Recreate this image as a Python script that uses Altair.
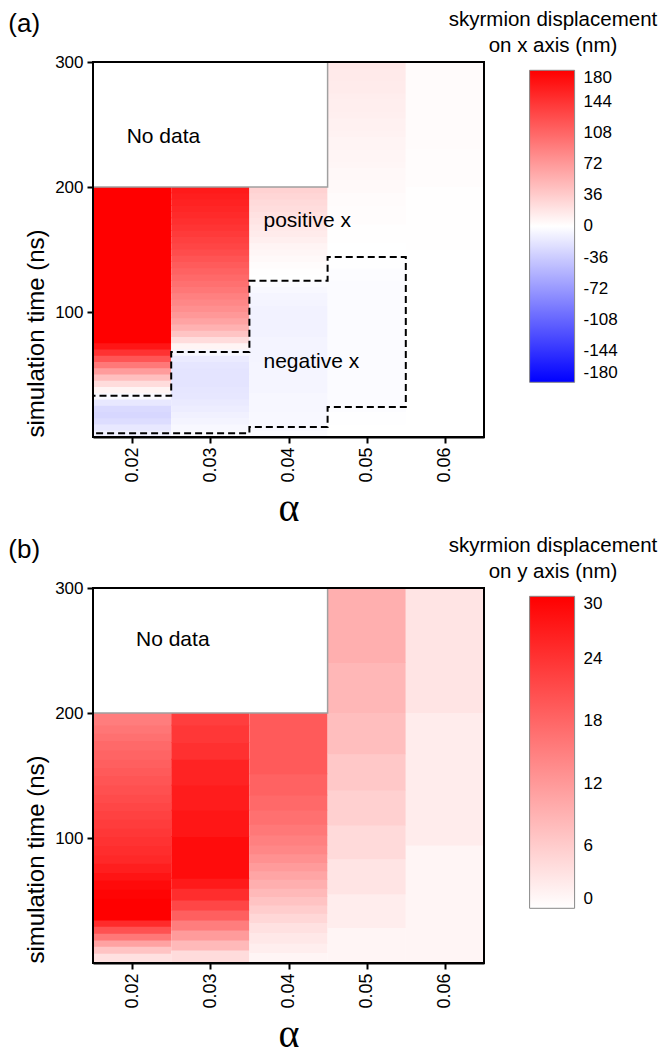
import altair as alt
import pandas as pd

FONT = "Liberation Sans"

# ---------------- axes / layout data ----------------
ALPHAS = [0.02, 0.03, 0.04, 0.05, 0.06]
HALF_WIDTH = 0.005
X_DOMAIN = [0.015, 0.065]
Y_DOMAIN = [0, 300]
Y_TICKS = [100, 200, 300]

# ---------------- panel (a): displacement on x (nm), 5 ns bins ----------------
A_EDGES_200 = list(range(0, 205, 5))
A_EDGES_300 = list(range(0, 305, 5))
A_002 = [-10, -16, -24, -28, -26, -16, -4, 8, 25, 45, 70, 95, 120, 145, 165, 180,
         190, 195, 200, 205, 210, 215, 220, 225, 230, 235, 240, 245, 250, 255,
         260, 265, 270, 275, 280, 285, 290, 295, 300, 305]
A_003 = [-3, -5, -8, -10, -13, -15, -17, -18, -19, -19, -19, -18, -14, -6, 8, 25,
         42, 55, 65, 73, 79, 85, 90, 96, 101, 106, 111, 116, 121, 126,
         131, 135, 139, 143, 147, 150, 153, 156, 159, 162]
A_004 = [-3, -4, -5, -5, -6, -6, -6, -7, -7, -7, -7, -7, -8, -8, -8, -8,
         -9, -9, -9, -9, -9, -8, -7, -5, -3, 0, 1, 2, 4, 6,
         8, 11, 14, 16, 19, 21, 24, 26, 29, 32]
A_005 = [0, 0, -1, -1, -2, -3, -3, -3, -3, -3, -3, -3, -3, -3, -3, -3,
         -3, -3, -3, -3, -3, -3, -3, -3, -3, -2, -2, -1, -1, 0,
         0, 1, 1, 1, 2, 2, 2, 3, 3, 4, 4, 5, 5, 6, 7,
         7, 8, 8, 9, 10, 10, 11, 12, 12, 13, 14, 14, 15, 15, 16]
A_006 = [0, 0, 0, 0, 0, 0, 0, 0, 0, 0, 0, 0, 0, 0, 0, 0,
         0, 0, 0, 0, 0, 0, 0, 0, 0, 0, 0, 0, 0, 0,
         1, 1, 1, 1, 1, 1, 1, 1, 1, 1, 2, 2, 2, 2, 2,
         2, 3, 3, 3, 3, 3, 3, 3, 3, 3, 3, 3, 3, 3, 3]

# ---------------- panel (b): displacement on y (nm), irregular bins ----------------
B_EDGES_002 = [0, 7.5, 13, 18, 23.5, 29, 34, 45, 51.5, 58.7, 66, 72, 79.5, 86, 93.4,
               100.8, 107.5, 114.7, 121.4, 128, 134.7, 142, 149.4, 156, 162.7, 170,
               177.6, 183.5, 190, 200]
B_002 = [3.5, 7, 11, 16, 20.5, 25, 30, 30, 29.5, 28.8, 27.6, 26.5, 25.3, 24.7,
         24.1, 23.5, 22.9, 22.4, 21.8, 21.2, 20.6, 20, 19.4, 18.8, 18.2, 17.6,
         16.8, 16.1, 15.3]
B_EDGES_003 = [0, 10, 18, 26, 34, 42, 50, 59.5, 67.5, 100.8, 122, 142, 162.7, 176, 190, 200]
B_003 = [4.1, 8.2, 11.8, 15.3, 18.8, 21.8, 24.7, 27, 28.6, 27.4, 26.7, 25.9, 24.4, 23.5, 22.7]
B_EDGES_004 = [0, 8, 15.5, 24, 32, 39.5, 46, 52.8, 59.5, 66.7, 73.4, 80, 87, 94, 102,
               110.7, 122, 134, 151, 200]
B_004 = [1.2, 2, 2.7, 3.5, 4.7, 5.9, 7.1, 8.2, 9.4, 10.6, 11.8, 12.9, 14.1, 15,
         15.9, 16.8, 17.6, 18.5, 19.4]
B_EDGES_005 = [0, 28, 55, 83, 110, 138, 167, 200, 240, 300]
B_005 = [1.2, 2.1, 3.2, 4.4, 5.5, 6.5, 7.6, 8.5, 9.4]
B_EDGES_006 = [0, 94, 200, 300]
B_006 = [1.2, 2.2, 3.2]

# no-data box (alpha range, time range)
NODATA_ALPHA = [0.015, 0.045]
NODATA_TIME = [200, 300]

# dashed boundary of the negative-x region in panel (a)
NEG_ALPHA = [0.015, 0.015, 0.025, 0.025, 0.035, 0.035, 0.045, 0.045, 0.055, 0.055,
             0.045, 0.045, 0.035, 0.035, 0.015]
NEG_TIME = [3, 33, 33, 68, 68, 125, 125, 144, 144, 24, 24, 8, 8, 3, 3]

# annotations (text, alpha, time)
A_NOTES = ["No data", "positive x", "negative x"]
A_NOTES_ALPHA = [0.0193, 0.0368, 0.0368]
A_NOTES_TIME = [235, 168, 55]
B_NOTES = ["No data"]
B_NOTES_ALPHA = [0.0205]
B_NOTES_TIME = [254]

A_LEGEND_VALUES = [-180, -144, -108, -72, -36, 0, 36, 72, 108, 144, 180]
B_LEGEND_VALUES = [0, 6, 12, 18, 24, 30]
A_TITLE = ["skyrmion displacement", "on x axis (nm)"]
B_TITLE = ["skyrmion displacement", "on y axis (nm)"]

W, H = 391, 375


def cells(groups):
    rows = []
    for alpha, edges, vals in groups:
        for t0, t1, v in zip(edges[:-1], edges[1:], vals):
            rows.append({"a0": alpha - HALF_WIDTH, "a1": alpha + HALF_WIDTH,
                         "t0": t0, "t1": t1, "v": v})
    return pd.DataFrame(rows)


df_a = cells([(ALPHAS[0], A_EDGES_200, A_002), (ALPHAS[1], A_EDGES_200, A_003),
              (ALPHAS[2], A_EDGES_200, A_004), (ALPHAS[3], A_EDGES_300, A_005),
              (ALPHAS[4], A_EDGES_300, A_006)])
df_b = cells([(ALPHAS[0], B_EDGES_002, B_002), (ALPHAS[1], B_EDGES_003, B_003),
              (ALPHAS[2], B_EDGES_004, B_004), (ALPHAS[3], B_EDGES_005, B_005),
              (ALPHAS[4], B_EDGES_006, B_006)])

xscale = alt.Scale(domain=X_DOMAIN, nice=False, zero=False)
yscale = alt.Scale(domain=Y_DOMAIN, nice=False, zero=False)
xaxis = alt.Axis(values=ALPHAS, format=".2f", labelAngle=270, labelFontSize=18,
                 labelPadding=4, title="α", titleFont="Liberation Serif",
                 titleFontSize=40, titlePadding=6)
yaxis = alt.Axis(values=Y_TICKS, labelFontSize=17, labelPadding=4,
                 title="simulation time (ns)", titleFontSize=24, titleAnchor="start",
                 titlePadding=6)


def X(f):
    return alt.X(f, type="quantitative", scale=xscale, axis=xaxis)


def Y(f):
    return alt.Y(f, type="quantitative", scale=yscale, axis=yaxis)


def panel(df, cscale, legend_values, title_lines, label, notes, notes_a, notes_t, dashed):
    legend = alt.Legend(orient="none", legendX=436.6, legendY=8.3, direction="vertical",
                        type="gradient", gradientLength=312, gradientThickness=45,
                        gradientStrokeColor="#888888", gradientStrokeWidth=1,
                        values=legend_values, labelFontSize=17, labelColor="black",
                        labelFont=FONT, labelOffset=9, labelExpr="datum.value",
                        labelBaseline="middle", title=None, padding=0)
    # each cell is drawn a hair taller so neighbouring cells leave no seam
    heat = alt.Chart(df).transform_calculate(t1o="datum.t1 + 0.7").mark_rect().encode(
        x=X("a0"), x2="a1", y=Y("t0"), y2="t1o:Q",
        color=alt.Color("v:Q", scale=cscale, legend=legend),
    )
    nd_df = pd.DataFrame({"a0": [NODATA_ALPHA[0]], "a1": [NODATA_ALPHA[1]],
                          "t0": [NODATA_TIME[0]], "t1": [NODATA_TIME[1]]})
    nodata = alt.Chart(nd_df).mark_rect(fill="white", stroke="#a0a0a0", strokeWidth=1.5).encode(
        x=X("a0"), x2="a1", y=Y("t0"), y2="t1")
    layers = [heat, nodata]
    if dashed:
        poly = pd.DataFrame({"a": NEG_ALPHA, "t": NEG_TIME, "i": list(range(len(NEG_ALPHA)))})
        layers.append(alt.Chart(poly).mark_line(color="black", strokeWidth=2,
                                                strokeDash=[7, 4]).encode(
            x=X("a"), y=Y("t"), order="i:Q"))
    nt = pd.DataFrame({"txt": notes, "a": notes_a, "t": notes_t})
    layers.append(alt.Chart(nt).mark_text(align="left", baseline="alphabetic", fontSize=21,
                                          font=FONT, color="black").encode(
        x=X("a"), y=Y("t"), text="txt:N"))
    fr = pd.DataFrame({"a0": [X_DOMAIN[0]], "a1": [X_DOMAIN[1]],
                       "t0": [Y_DOMAIN[0]], "t1": [Y_DOMAIN[1]]})
    layers.append(alt.Chart(fr).mark_rect(fillOpacity=0, stroke="black", strokeWidth=2).encode(
        x=X("a0"), x2="a1", y=Y("t0"), y2="t1"))
    # legend title lines and panel label
    for txt, yy in zip(title_lines, [-35.7, -9.7]):
        layers.append(alt.Chart(pd.DataFrame({"txt": [txt]})).mark_text(
            align="center", baseline="alphabetic", fontSize=20.5, font=FONT, color="black"
        ).encode(text="txt:N", x=alt.value(460), y=alt.value(yy)))
    layers.append(alt.Chart(pd.DataFrame({"txt": [label]})).mark_text(
        align="left", baseline="alphabetic", fontSize=26, font=FONT, color="black"
    ).encode(text="txt:N", x=alt.value(-84.7), y=alt.value(-30)))
    return alt.layer(*layers).properties(width=W, height=H)


scale_a = alt.Scale(domain=[-180, 0, 180], range=["#0000ff", "#ffffff", "#ff0000"],
                    clamp=True, nice=False, zero=False, interpolate="rgb")
scale_b = alt.Scale(domain=[0, 30], range=["#ffffff", "#ff0000"],
                    clamp=True, nice=False, zero=False, interpolate="rgb")

pa = panel(df_a, scale_a, A_LEGEND_VALUES, A_TITLE, "(a)", A_NOTES, A_NOTES_ALPHA,
           A_NOTES_TIME, True)
pb = panel(df_b, scale_b, B_LEGEND_VALUES, B_TITLE, "(b)", B_NOTES, B_NOTES_ALPHA,
           B_NOTES_TIME, False)

chart = alt.vconcat(pa, pb, spacing=151, bounds="flush").resolve_scale(
    color="independent"
).resolve_legend(color="independent").properties(
    padding={"left": 8, "top": 10, "right": 0, "bottom": 0}
).configure(font=FONT).configure_axis(
    labelColor="black", titleColor="black", domainColor="black", tickColor="black",
    domainWidth=2, tickWidth=2, tickSize=6, grid=False, labelFont=FONT,
    titleFont=FONT, titleFontWeight="normal", zindex=1
).configure_view(strokeWidth=0)

chart.save("out.html", embed_options={"renderer": "svg", "actions": False})
